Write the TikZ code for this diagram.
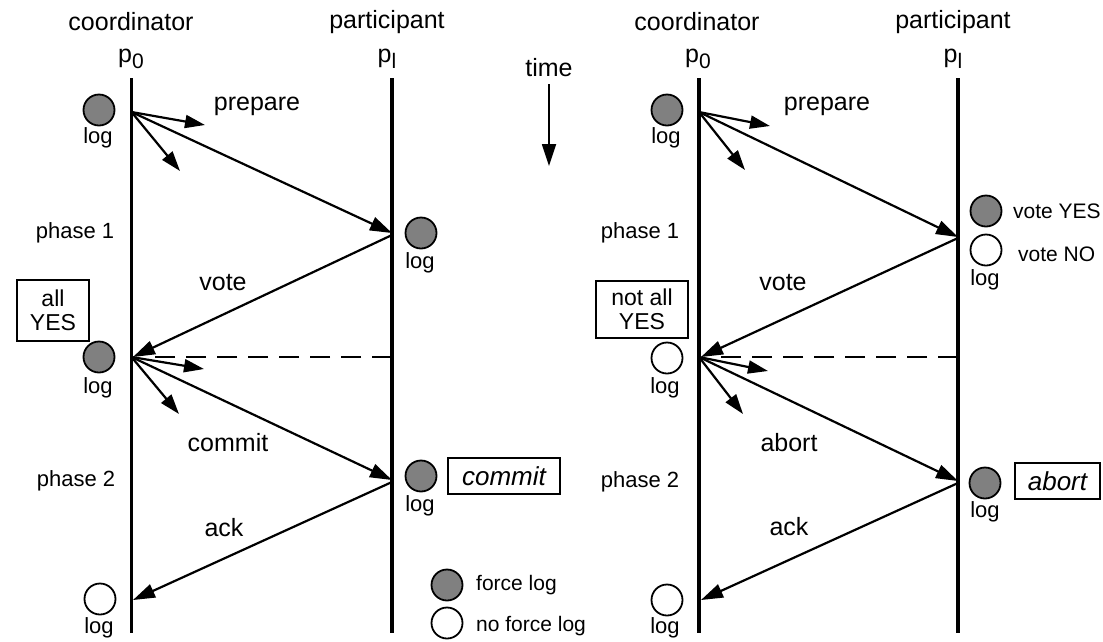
\documentclass[tikz,border=0pt]{standalone}
\usepackage{fontspec}
\setmainfont{Liberation Sans}
\usetikzlibrary{arrows.meta}
\definecolor{logfill}{RGB}{128,128,128}
\newcommand{\proc}[1]{p\raisebox{-6pt}{\fontsize{21}{21}\selectfont #1}}
\begin{document}
\begin{tikzpicture}[x=1pt,y=-1pt,
  lifeline/.style={line width=3.4pt},
  msg/.style={line width=2.2pt,-{Triangle[length=22pt,width=14pt]}},
  stub/.style={line width=2.2pt,-{Triangle[length=20pt,width=13pt]}},
  waitline/.style={line width=2.5pt,dash pattern=on 20pt off 11pt},
  forced/.style={circle,draw,line width=1.8pt,fill=logfill,minimum size=31pt,inner sep=0pt},
  unforced/.style={circle,draw,line width=1.8pt,fill=white,minimum size=31pt,inner sep=0pt},
  big/.style={font=\fontsize{25}{27}\selectfont,inner sep=0pt},
  small/.style={font=\fontsize{22}{24}\selectfont,inner sep=0pt},
  legend/.style={font=\fontsize{21}{23}\selectfont,inner sep=0pt},
  outcome/.style={draw,line width=2.2pt,inner sep=0pt,align=center,
    font=\fontsize{23}{26}\selectfont},
  decision/.style={draw,line width=2.2pt,inner sep=0pt,
    font=\fontsize{26}{28}\selectfont\itshape}
]
\useasboundingbox (0,0) rectangle (1103,641);

% ---------------- commit case ----------------
\node[big] (coordA) at (131,22) {coordinator};
\node[big] (partA) at (387,22) {participant};
\node[big] (pA0) at (131,59) {\proc{0}};
\node[big] (pAl) at (387,59) {\proc{l}};

\coordinate (cA-top) at (131.5,78);
\coordinate (cA-bot) at (131.5,633);
\coordinate (qA-top) at (392,78);
\coordinate (qA-bot) at (392,633);
\draw[lifeline] (cA-top) -- (cA-bot);
\draw[lifeline] (qA-top) -- (qA-bot);

% prepare
\node[forced] (logA1) at (99,110) {};
\node[small] (logA1t) at (98,138) {log};
\coordinate (cA-prep) at (131.5,112);
\coordinate (sA1) at (205,125);
\coordinate (sA2) at (180,171);
\coordinate (qA-prep) at (392,233);
\draw[stub] (cA-prep) -- (sA1);
\draw[stub] (cA-prep) -- (sA2);
\draw[msg] (cA-prep) -- (qA-prep);
\node[big] (prepA) at (257,106) {prepare};
\node[small] (ph1A) at (75,233) {phase 1};
\node[forced] (logA2) at (421,233) {};
\node[small] (logA2t) at (420,263) {log};

% vote
\coordinate (qA-vote) at (392,235);
\coordinate (cA-vote) at (133,357);
\draw[msg] (qA-vote) -- (cA-vote);
\node[big] (voteA) at (223,283) {vote};
\node[outcome,minimum width=72pt,minimum height=61pt] (allA) at (53,310.5)
  {all\\[-2pt]YES};
\node[forced] (logA3) at (99,357) {};
\node[small] (logA3t) at (98,388) {log};
\coordinate (qA-wait) at (392,357);
\coordinate (cA-wait) at (145,357);
\draw[waitline] (qA-wait) -- (cA-wait);

% commit
\coordinate (cA-dec) at (131.5,357);
\coordinate (sA3) at (204,369);
\coordinate (sA4) at (179,414);
\coordinate (qA-dec) at (392,480);
\draw[stub] (cA-dec) -- (sA3);
\draw[stub] (cA-dec) -- (sA4);
\draw[msg] (cA-dec) -- (qA-dec);
\node[big] (commitA) at (228,443) {commit};
\node[small] (ph2A) at (76,481) {phase 2};
\node[forced] (logA4) at (421,476) {};
\node[small] (logA4t) at (420,506) {log};
\node[decision,minimum width=112pt,minimum height=36pt] (resA) at (504,476) {commit};

% ack
\coordinate (qA-ack) at (392,482);
\coordinate (cA-ack) at (133,600);
\draw[msg] (qA-ack) -- (cA-ack);
\node[big] (ackA) at (224,528) {ack};
\node[unforced] (logA5) at (100,599) {};
\node[small] (logA5t) at (99,628) {log};

% legend
\node[forced] (legF) at (447,585) {};
\node[legend,anchor=west] (legFt) at (476,585) {force log};
\node[unforced] (legN) at (447,623) {};
\node[legend,anchor=west] (legNt) at (476,626) {no force log};

% time axis
\node[big] (time) at (549,68) {time};
\coordinate (time-top) at (549,84);
\coordinate (time-bot) at (549,166);
\draw[msg,line width=1.8pt] (time-top) -- (time-bot);

% ---------------- abort case ----------------
\node[big] (coordB) at (697,22) {coordinator};
\node[big] (partB) at (953,22) {participant};
\node[big] (pB0) at (698,59) {\proc{0}};
\node[big] (pBl) at (953,59) {\proc{l}};

\coordinate (cB-top) at (699,78);
\coordinate (cB-bot) at (699,633);
\coordinate (qB-top) at (958,78);
\coordinate (qB-bot) at (958,633);
\draw[lifeline] (cB-top) -- (cB-bot);
\draw[lifeline] (qB-top) -- (qB-bot);

% prepare
\node[forced] (logB1) at (667,110) {};
\node[small] (logB1t) at (666,138) {log};
\coordinate (cB-prep) at (699,112);
\coordinate (sB1) at (770,126);
\coordinate (sB2) at (745,170);
\coordinate (qB-prep) at (958,237);
\draw[stub] (cB-prep) -- (sB1);
\draw[stub] (cB-prep) -- (sB2);
\draw[msg] (cB-prep) -- (qB-prep);
\node[big] (prepB) at (827,106) {prepare};
\node[small] (ph1B) at (640,233) {phase 1};
\node[forced] (yesB) at (986,211) {};
\node[legend,anchor=west] (yesBt) at (1013,211) {vote YES};
\node[unforced] (noB) at (986,250) {};
\node[legend,anchor=west] (noBt) at (1018,254) {vote NO};
\node[small] (logB2t) at (985,280) {log};

% vote
\coordinate (qB-vote) at (958,238);
\coordinate (cB-vote) at (701,357);
\draw[msg] (qB-vote) -- (cB-vote);
\node[big] (voteB) at (783,283) {vote};
\node[outcome,minimum width=92pt,minimum height=57pt] (allB) at (642,309.5)
  {not all\\[-2pt]YES};
\node[unforced] (logB3) at (667,358) {};
\node[small] (logB3t) at (665,388) {log};
\coordinate (qB-wait) at (958,357);
\coordinate (cB-wait) at (712,357);
\draw[waitline] (qB-wait) -- (cB-wait);

% abort
\coordinate (cB-dec) at (699,357);
\coordinate (sB3) at (768,371);
\coordinate (sB4) at (743,414);
\coordinate (qB-dec) at (958,481);
\draw[stub] (cB-dec) -- (sB3);
\draw[stub] (cB-dec) -- (sB4);
\draw[msg] (cB-dec) -- (qB-dec);
\node[big] (abortB) at (789,443) {abort};
\node[small] (ph2B) at (640,482) {phase 2};
\node[forced] (logB4) at (985,483) {};
\node[small] (logB4t) at (985,512) {log};
\node[decision,minimum width=85pt,minimum height=36pt] (resB) at (1057.5,481) {abort};

% ack
\coordinate (qB-ack) at (958,483);
\coordinate (cB-ack) at (701,600);
\draw[msg] (qB-ack) -- (cB-ack);
\node[big] (ackB) at (789,527) {ack};
\node[unforced] (logB5) at (667,600) {};
\node[small] (logB5t) at (665,628) {log};
\end{tikzpicture}
\end{document}
